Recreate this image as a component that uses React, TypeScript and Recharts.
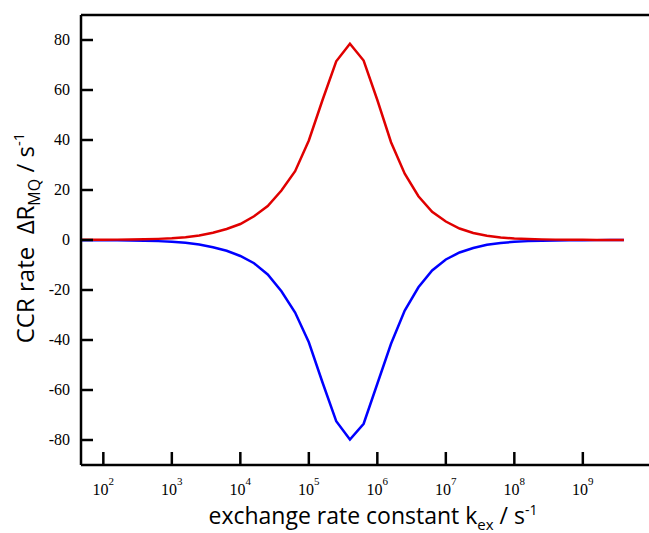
import React from "react";
import { LineChart, Line, XAxis, YAxis, ReferenceLine, Label } from "recharts";

// log10 of the exchange rate constant k_ex (s^-1)
const logK = [
  1.6, 1.8, 2.0, 2.2, 2.4, 2.6, 2.8, 3.0, 3.2, 3.4, 3.6, 3.8, 4.0, 4.2,
  4.4, 4.6, 4.8, 5.0, 5.2, 5.4, 5.6, 5.8, 6.0, 6.2, 6.4, 6.6, 6.8, 7.0,
  7.2, 7.4, 7.6, 7.8, 8.0, 8.2, 8.4, 8.6, 8.8, 9.0, 9.2, 9.4, 9.6,
];

// CCR rate, red curve (s^-1)
const ccrPositive = [
  0.05, 0.08, 0.1, 0.15, 0.2, 0.3, 0.45, 0.7, 1.1, 1.8, 2.9, 4.4, 6.4, 9.5,
  13.6, 19.8, 27.5, 39.8, 56, 71.5, 78.5, 71.8, 56, 39.1, 26.5, 17.5, 11.3, 7.4,
  4.6, 2.8, 1.7, 1.0, 0.6, 0.4, 0.25, 0.15, 0.1, 0.06, 0.04, 0.02, 0.01,
];

// CCR rate, blue curve (s^-1)
const ccrNegative = [
  -0.05, -0.08, -0.1, -0.15, -0.2, -0.3, -0.45, -0.7, -1.1, -1.8, -2.9, -4.3, -6.4, -9.3,
  -13.8, -20.5, -29, -40.9, -57, -72.5, -79.8, -73.5, -57.5, -41.5, -28.2, -18.9, -12.2, -7.8,
  -5.0, -3.2, -1.9, -1.2, -0.7, -0.45, -0.3, -0.2, -0.12, -0.08, -0.05, -0.03, -0.02,
];

const xTicks = [2, 3, 4, 5, 6, 7, 8, 9];
const yTicks = [-80, -60, -40, -20, 0, 20, 40, 60, 80];

const data = logK.map((k, i) => ({ logK: k, pos: ccrPositive[i], neg: ccrNegative[i] }));

const SERIF = "Liberation Serif, Times New Roman, serif";
const SANS = "Open Sans, Noto Sans, sans-serif";

const XTick = (props: any) => {
  const { x, y, payload } = props;
  return (
    <g>
      <line x1={x} y1={y} x2={x} y2={y - 13} stroke="#000" strokeWidth={2.5} />
      <text x={x} y={y + 30} textAnchor="middle" style={{ fontFamily: SERIF, fontSize: 16 }} fill="#000">
        <tspan>10</tspan>
        <tspan dy={-10} style={{ fontSize: 11 }}>{payload.value}</tspan>
      </text>
    </g>
  );
};

const YTick = (props: any) => {
  const { x, y, payload } = props;
  return (
    <g>
      <line x1={x} y1={y} x2={x + 12} y2={y} stroke="#000" strokeWidth={2.5} />
      <text x={x - 11} y={y + 5} textAnchor="end" style={{ fontFamily: SERIF, fontSize: 16 }} fill="#000">
        {payload.value}
      </text>
    </g>
  );
};

const XTitle = () => (
  <text x={373} y={524} textAnchor="middle" style={{ fontFamily: SANS, fontSize: 23 }} fill="#000">
    <tspan>exchange rate constant k</tspan>
    <tspan dy={6} style={{ fontSize: 15 }}>ex</tspan>
    <tspan dy={-6}> / s</tspan>
    <tspan dy={-9} style={{ fontSize: 14 }}>-1</tspan>
  </text>
);

const YTitle = () => (
  <text
    x={34}
    y={238}
    transform="rotate(-90 34 238)"
    textAnchor="middle"
    style={{ fontFamily: SANS, fontSize: 24 }}
    fill="#000"
  >
    <tspan>{"CCR rate\u00a0\u00a0ΔR"}</tspan>
    <tspan dy={6} style={{ fontSize: 16 }}>MQ</tspan>
    <tspan dy={-6}> / s</tspan>
    <tspan dy={-10} style={{ fontSize: 15 }}>-1</tspan>
  </text>
);

const App = () => {
  return (
    <div style={{ position: "absolute", left: 0, top: 0, width: 649, height: 533, background: "#fff" }}>
      <LineChart width={649} height={533} data={data} margin={{ top: 15, right: 0, bottom: 0, left: 0 }}>
        <XAxis
          dataKey="logK"
          type="number"
          domain={[1.674, 9.966]}
          allowDataOverflow
          ticks={xTicks}
          interval={0}
          height={68}
          tickSize={0}
          tickMargin={0}
          tickLine={false}
          axisLine={{ stroke: "#000", strokeWidth: 2.5 }}
          tick={<XTick />}
        >
          <Label content={<XTitle />} />
        </XAxis>
        <YAxis
          type="number"
          domain={[-90, 90]}
          allowDataOverflow
          ticks={yTicks}
          interval={0}
          width={81}
          tickSize={0}
          tickMargin={0}
          tickLine={false}
          axisLine={{ stroke: "#000", strokeWidth: 2.5 }}
          tick={<YTick />}
        >
          <Label content={<YTitle />} />
        </YAxis>
        <ReferenceLine y={90} stroke="#000" strokeWidth={2.5} />
        <Line
          dataKey="neg"
          stroke="#0000ff"
          strokeWidth={2.5}
          dot={false}
          activeDot={false}
          isAnimationActive={false}
        />
        <Line
          dataKey="pos"
          stroke="#e00000"
          strokeWidth={2.5}
          dot={false}
          activeDot={false}
          isAnimationActive={false}
        />
      </LineChart>
    </div>
  );
};

export default App;
